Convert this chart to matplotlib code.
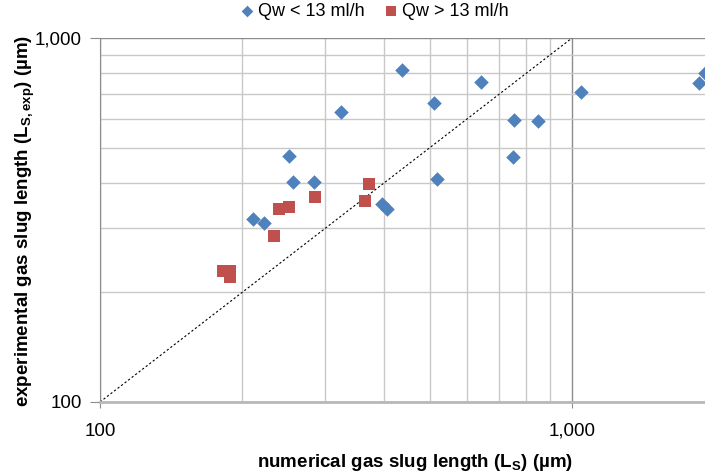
import matplotlib.pyplot as plt
from matplotlib.ticker import FixedLocator, NullFormatter, FuncFormatter

plt.rcParams['font.family'] = ['Liberation Sans', 'DejaVu Sans']
plt.rcParams['mathtext.default'] = 'regular'

# Qw < 13 ml/h (blue diamonds)
low_x = [211, 223, 251, 257, 284, 324, 396, 405, 436, 511, 517, 642, 755, 749, 846, 1043, 1858, 1910]
low_y = [318, 311, 474, 403, 401, 625, 351, 340, 817, 662, 409, 759, 595, 470, 593, 710, 751, 803]

# Qw > 13 ml/h (red squares)
high_x = [182, 189, 189, 234, 239, 251, 285, 364, 371]
high_y = [229, 229, 221, 286, 340, 344, 366, 357, 396]

labels = ['Qw < 13 ml/h', 'Qw > 13 ml/h']
diag = [100, 1000]

fig = plt.figure(figsize=(7.05, 4.75), dpi=100)
ax = fig.add_axes([100 / 705, 1 - 402 / 475, 605 / 705, 364 / 475])

ax.set_xscale('log')
ax.set_yscale('log')
ax.set_xlim(100, 1913)
ax.set_ylim(100, 1000)

minor = [200, 300, 400, 500, 600, 700, 800, 900]
ax.xaxis.set_major_locator(FixedLocator([100, 1000]))
ax.yaxis.set_major_locator(FixedLocator([100, 1000]))
ax.xaxis.set_minor_locator(FixedLocator(minor))
ax.yaxis.set_minor_locator(FixedLocator(minor))
ax.xaxis.set_minor_formatter(NullFormatter())
ax.yaxis.set_minor_formatter(NullFormatter())
fmt = FuncFormatter(lambda v, p: f'{int(round(v)):,}')
ax.xaxis.set_major_formatter(fmt)
ax.yaxis.set_major_formatter(fmt)

ax.grid(which='minor', color='#c8c8c8', linewidth=1.0)
ax.grid(which='major', color='#8c8c8c', linewidth=1.0)
ax.set_axisbelow(True)

for s in ['top', 'right']:
    ax.spines[s].set_visible(False)
ax.spines['left'].set_color('#8c8c8c')
ax.spines['bottom'].set_color('#b8b8b8')
ax.spines['bottom'].set_linewidth(2)

ax.tick_params(axis='y', which='major', length=7, color='#8c8c8c', labelsize=13.5, pad=6)
ax.tick_params(axis='x', which='major', length=4, color='#8c8c8c', labelsize=13.5, pad=11)
ax.tick_params(which='minor', length=0)

ax.plot(diag, diag, color='black', linestyle=(0, (2, 2)), linewidth=0.8, zorder=2)

ax.scatter(low_x, low_y, marker='D', s=55, color='#4f81bd', label=labels[0], zorder=3, linewidths=0)
ax.scatter(high_x, high_y, marker='s', s=80, color='#c0504d', label=labels[1], zorder=3, linewidths=0)

ax.set_xlabel('numerical gas slug length (L$_S$) (µm)', fontsize=13.5, fontweight='bold', va='center')
ax.set_ylabel('experimental gas slug length (L$_{S,exp}$) (µm)', fontsize=13.5, fontweight='bold', va='center')
ax.xaxis.set_label_coords(0.52, -0.165)
ax.yaxis.set_label_coords(-0.124, 0.496)

h, l = ax.get_legend_handles_labels()
fig.legend(h, l, loc='center', bbox_to_anchor=(375 / 705, 1 - 11 / 475), ncol=2, frameon=False,
           fontsize=13, handlelength=0.6, handletextpad=0.3, columnspacing=1.2, borderaxespad=0,
           markerscale=0.8)

fig.savefig('out.png', dpi=100)
